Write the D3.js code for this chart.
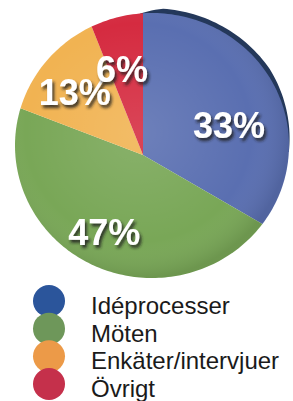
<!DOCTYPE html>
<html>
<head>
<meta charset="utf-8">
<script src="https://cdn.jsdelivr.net/npm/d3@7"></script>
<style>
  html, body { margin: 0; padding: 0; background: #fff; }
  svg { display: block; }
</style>
</head>
<body>
<svg id="chart" width="293" height="401"></svg>
<script>
// data
const categories = ["Idéprocesser", "Möten", "Enkäter/intervjuer", "Övrigt"];
const values = [33, 47, 13, 6];
const labels = ["33%", "47%", "13%", "6%"];

const sliceColors = ["#5a6fb1", "#79a757", "#f1b352", "#d52b40"];
const legendColors = ["#2b559b", "#6e975a", "#ec9a48", "#c5304b"];

const svg = d3.select("#chart");

// pie is a slightly tilted disk: slices meet at V, rim is an ellipse
const V = { x: 143, y: 155 };
const E = { cx: 152, cy: 145.5, rx: 137, ry: 132.5 };

function rimPoint(a, grow) {
  const rx = E.rx + (grow || 0), ry = E.ry + (grow || 0);
  const ox = (V.x - E.cx) / rx, oy = (V.y - E.cy) / ry;
  const dx = Math.sin(a) / rx, dy = -Math.cos(a) / ry;
  const A = dx * dx + dy * dy, B = 2 * (ox * dx + oy * dy), C = ox * ox + oy * oy - 1;
  const t = (-B + Math.sqrt(B * B - 4 * A * C)) / (2 * A);
  return [V.x + t * Math.sin(a), V.y - t * Math.cos(a)];
}

const pie = d3.pie().sort(null).value(d => d);
const arcs = pie(values);
const line = d3.line();

function slicePath(d) {
  const pts = [[V.x, V.y]];
  const n = Math.max(4, Math.ceil((d.endAngle - d.startAngle) * 40));
  for (let i = 0; i <= n; i++) {
    pts.push(rimPoint(d.startAngle + (d.endAngle - d.startAngle) * i / n));
  }
  return line(pts) + "Z";
}

const defs = svg.append("defs");
const shadow = defs.append("filter").attr("id", "shadow")
  .attr("x", "-20%").attr("y", "-20%").attr("width", "150%").attr("height", "160%");
shadow.append("feDropShadow")
  .attr("dx", 2).attr("dy", 3).attr("stdDeviation", 1.8)
  .attr("flood-color", "#1a1a1a").attr("flood-opacity", 0.85);

const shade = defs.append("radialGradient").attr("id", "shade")
  .attr("cx", "45%").attr("cy", "45%").attr("r", "55%");
shade.append("stop").attr("offset", "0%").attr("stop-color", "#fff").attr("stop-opacity", 0.12);
shade.append("stop").attr("offset", "75%").attr("stop-color", "#fff").attr("stop-opacity", 0);
shade.append("stop").attr("offset", "100%").attr("stop-color", "#000").attr("stop-opacity", 0.1);

// dark rim on the upper right edge
const rimPts = [];
const a0 = -0.02, a1 = 1.55, steps = 60;
const thick = i => 4.8 * Math.min(1, i / 6) * Math.min(1, (steps - i) / 22);
for (let i = 0; i <= steps; i++) {
  rimPts.push(rimPoint(a0 + (a1 - a0) * i / steps, thick(i)));
}
for (let i = steps; i >= 0; i--) {
  rimPts.push(rimPoint(a0 + (a1 - a0) * i / steps, -1));
}
svg.append("path").attr("d", line(rimPts) + "Z").attr("fill", "#24385a");

svg.append("g").selectAll("path")
  .data(arcs)
  .join("path")
  .attr("d", slicePath)
  .attr("fill", (d, i) => sliceColors[i]);

svg.append("ellipse")
  .attr("cx", E.cx).attr("cy", E.cy).attr("rx", E.rx).attr("ry", E.ry)
  .attr("fill", "url(#shade)");

// percent labels
const labelR = 90;
const nudge = [[8, 15], [0, -4], [-4, 0], [-4, 2]];
svg.append("g").selectAll("text")
  .data(arcs)
  .join("text")
  .attr("x", (d, i) => V.x + labelR * Math.sin((d.startAngle + d.endAngle) / 2) + nudge[i][0])
  .attr("y", (d, i) => V.y - labelR * Math.cos((d.startAngle + d.endAngle) / 2) + nudge[i][1])
  .attr("dy", "0.36em")
  .attr("text-anchor", "middle")
  .attr("font-family", "'Liberation Sans', Arial, sans-serif")
  .attr("font-weight", "bold")
  .attr("font-size", 36)
  .attr("fill", "#fff")
  .attr("filter", "url(#shadow)")
  .text((d, i) => labels[i]);

// legend
const ly = d3.scalePoint().domain(categories).range([301, 384]);
const legend = svg.append("g").selectAll("g")
  .data(categories)
  .join("g")
  .attr("transform", d => `translate(0,${ly(d)})`);

legend.append("circle")
  .attr("cx", 49).attr("r", 16)
  .attr("fill", (d, i) => legendColors[i]);

legend.append("text")
  .attr("x", 91).attr("y", 13)
  .attr("font-family", "'Liberation Sans', Arial, sans-serif")
  .attr("font-size", 24)
  .attr("fill", "#1a1a1a")
  .text(d => d);
</script>
</body>
</html>
